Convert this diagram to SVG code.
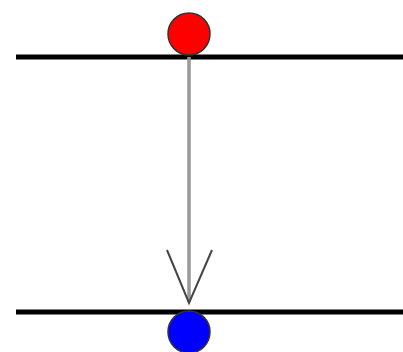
<svg xmlns="http://www.w3.org/2000/svg" width="403" height="352" viewBox="0 0 403 352">
<style>
.rail{stroke:#000;stroke-width:5;fill:none}
.node{stroke:#333;stroke-width:1.5}
.conn{stroke:#999;stroke-width:3.5;fill:none}
.head{stroke:#444;stroke-width:2;fill:none}
</style>
<g id="rails">
<line class="rail" x1="16" y1="57" x2="403" y2="57"/>
<line class="rail" x1="16" y1="312" x2="403" y2="312"/>
</g>
<g id="connectors">
<line class="conn" x1="189" y1="57" x2="189" y2="302"/>
<polyline class="head" points="167,250 189,303 212,250"/>
</g>
<g id="node-red">
<circle class="node" cx="189" cy="34" r="21" fill="#ff0000"/>
</g>
<g id="node-blue">
<circle class="node" cx="189" cy="332" r="21" fill="#0000ff"/>
</g>
</svg>
